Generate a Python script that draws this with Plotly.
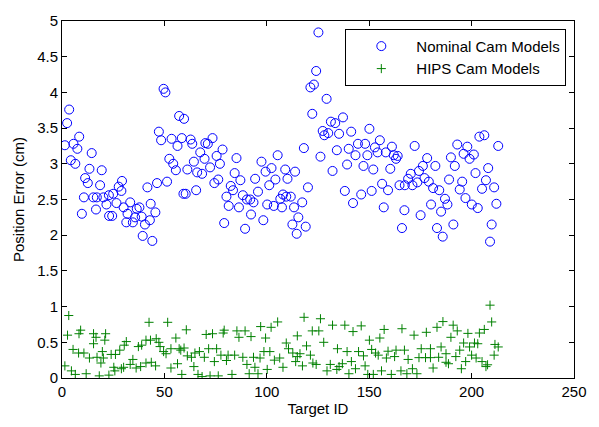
import plotly.graph_objects as go

# Nominal Cam Models (blue circles): target ID, position error (cm)
nominal_x = [1.4, 2.5, 3.5, 5.6, 8.4, 7.5, 4.3, 6.5, 14.5, 13.4, 11.3, 12.6, 19.4, 18.6, 10.7, 9.7,
             15.3, 16.6, 17.0, 20.2, 21.7, 22.9, 25.0, 26.6, 27.7, 29.3, 29.0, 23.0, 24.5, 30.1, 33.3,
             32.0, 31.4, 34.6, 35.7, 36.5, 37.8, 38.9, 40.5, 39.4, 42.9, 43.3, 45.6, 44.1, 41.7, 46.4,
             51.3, 49.6, 50.5, 47.3, 48.4, 53.5, 56.4, 52.4, 54.3, 55.6, 59.3,
             57.2, 59.6, 58.5, 62.8, 63.6, 70.0, 71.2, 73.5, 67.5, 78.4, 75.5, 69.6, 64.4, 61.2, 66.0,
             68.4, 72.3, 77.1, 85.2, 84.3, 87.1, 74.4, 76.3, 60.4, 65.5, 82.4, 83.5, 80.3, 81.4, 86.4,
             88.3, 90.3, 91.9, 93.5, 92.3, 79.2, 89.4, 94.3, 95.7, 97.4, 99.4, 102.3, 105.3, 101.2,
             104.2, 100.2, 103.4, 98.3, 106.6, 107.9, 109.5, 107.4, 109.0, 110.1, 111.7, 113.3, 113.8,
             112.5, 114.6, 115.4,
             125.2, 124.1, 121.3, 123.0, 129.2, 122.2, 131.3, 133.4, 137.2, 127.3, 128.1, 130.0, 135.3,
             141.2, 150.1, 118.1, 126.2, 134.2, 140.0, 143.3, 144.5, 148.0, 149.1, 152.8, 155.2, 154.1,
             158.1, 161.1, 162.0, 163.9, 163.1, 132.1, 139.2, 147.2, 152.0, 160.3, 120.1, 117.3, 119.0,
             138.1, 142.1, 146.1, 151.2, 156.3, 159.2, 157.1, 164.8, 167.4, 169.0, 171.1, 167.2, 166.0,
             172.2, 193.0, 203.8, 206.2, 213.0, 197.9, 196.1, 201.1, 199.0, 178.3, 189.9, 191.8, 176.2,
             182.3, 174.3, 170.3, 208.1, 201.9, 177.0, 173.5, 179.1, 181.2, 184.2, 189.0, 195.4, 194.2,
             205.1, 207.0, 211.0, 187.0, 188.2, 197.0, 200.1, 203.0, 212.1, 180.2, 185.1, 175.1, 183.1,
             191.1, 185.9, 209.8, 209.0]
nominal_y = [3.26, 3.57, 3.76, 3.28, 3.38, 3.21, 3.05, 3.00, 3.15, 2.93, 2.80, 2.73, 2.91, 2.70, 2.53, 2.30,
             2.53, 2.36, 2.53, 2.53, 2.43, 2.56, 2.58, 2.45, 2.68, 2.76, 2.62, 2.27, 2.27, 2.39, 2.46,
             2.30, 2.18, 2.18, 2.25, 2.37, 2.39, 2.26, 2.15, 1.99, 2.21, 2.44, 2.32, 1.92, 2.67, 2.73,
             2.75, 4.05, 4.00, 3.45, 3.33, 3.35, 3.25, 3.07, 3.00, 2.91, 2.58,
             3.67, 3.63, 3.36, 3.34, 3.28, 3.29, 3.28, 3.36, 3.16, 3.20, 3.11, 3.07, 3.03, 2.92, 2.88,
             2.86, 2.95, 3.00, 3.08, 2.87, 2.77, 2.73, 2.78, 2.58, 2.63, 2.69, 2.63, 2.54, 2.41, 2.39,
             2.56, 2.50, 2.50, 2.46, 2.29, 2.17, 2.09, 2.79, 2.61, 3.03, 2.89, 2.94, 3.12, 2.70,
             2.78, 2.43, 2.41, 2.21, 2.51, 2.57, 2.54, 2.39, 2.92, 2.79, 2.54, 2.39, 2.89,
             2.15, 2.02, 2.25,
             4.84, 4.30, 4.07, 4.11, 3.91, 3.70, 3.59, 3.57, 3.65, 3.46, 3.40, 3.43, 3.42,
             3.45, 3.49, 3.22, 3.10, 3.19, 3.21, 3.12, 3.28, 3.28, 3.12, 3.23, 3.33, 3.16,
             3.16, 3.24, 3.12, 3.11, 3.07, 2.90, 2.99, 2.97, 2.92, 2.93, 2.67, 2.46, 2.12,
             2.62, 2.45, 2.57, 2.62, 2.72, 2.63, 2.39, 2.70, 2.70, 2.79, 2.70, 2.35, 2.10,
             3.25, 3.27, 3.38, 3.40, 3.25, 3.24, 3.14, 3.13, 3.07, 3.08, 3.09, 2.97, 2.97,
             2.97, 2.90, 2.86, 2.94, 2.87, 2.80, 2.74, 2.75, 2.66, 2.63, 2.78, 2.75, 2.64,
             2.65, 2.77, 2.67, 2.51, 2.43, 2.52, 2.43, 2.38, 2.44, 2.43, 2.33, 2.28, 2.10,
             2.15, 1.98, 2.15, 1.91]

# HIPS Cam Models (green crosses)
hips_x = [3.3, 2.7, 9.1, 8.3, 15.4, 16.6, 21.3, 20.9, 15.4, 42.5, 51.6, 55.6, 5.4, 8.1, 10.7, 13.4,
          17.1, 19.7, 20.2, 24.0, 26.1, 28.2, 30.4, 31.4, 37.3, 38.9, 41.0, 43.2, 46.0, 47.3, 47.9,
          49.6, 50.8, 53.2, 57.2, 1.4, 4.6, 6.5, 11.8, 18.2, 22.9, 25.8, 25.3, 29.0, 30.1, 33.3,
          34.6, 36.2, 38.4, 41.0, 43.6, 45.7, 53.2, 56.4, 19.0,
          60.7, 70.4, 73.5, 79.2, 78.7, 85.4, 89.4, 86.4, 92.3, 97.0, 102.1, 105.3, 99.4, 114.9,
          109.5, 58.0, 59.6, 61.2, 63.2, 64.9, 67.1, 69.5, 71.6, 75.5, 77.6, 81.1, 84.3, 88.3, 93.5,
          96.7, 98.6, 101.5, 103.7, 106.3, 110.6, 112.7, 114.9, 64.4, 74.4, 80.3, 90.3, 94.2, 100.2,
          107.9, 58.5, 66.4, 68.4, 72.3, 76.3, 83.0, 91.4, 95.7,
          118.2, 126.2, 132.1, 138.1, 146.1, 157.3, 166.0, 142.1, 122.2, 125.4, 155.2, 150.1, 171.9,
          127.8, 119.4, 134.5, 139.2, 144.8, 151.2, 153.1, 159.2, 163.1, 167.2, 116.2, 121.3, 114.1,
          122.5, 124.1, 117.4, 141.3, 148.0, 147.2, 154.4, 158.4, 162.4, 169.0, 131.0, 135.3, 136.9,
          129.4, 134.2, 143.3, 140.1, 149.3, 152.0, 156.0, 160.8, 165.5, 168.4, 171.1,
          209.0, 209.8, 186.0, 183.1, 191.0, 193.0, 206.2, 203.8, 198.2, 177.9, 189.9, 196.1, 201.4,
          203.0, 199.0, 211.4, 213.0, 175.4, 179.9, 185.1, 194.2, 187.5, 211.0, 174.3, 177.5, 179.9,
          183.9, 192.3, 200.0, 202.2, 197.1, 205.1, 187.5, 188.7, 207.8, 207.0, 181.2, 195.0, 173.3]
hips_y = [0.875, 0.60, 0.67, 0.62, 0.62, 0.57, 0.62, 0.53, 0.48, 0.78, 0.78, 0.56, 0.40, 0.35, 0.35, 0.28,
          0.29, 0.37, 0.28, 0.33, 0.33, 0.39, 0.46, 0.51, 0.44, 0.46, 0.53, 0.53, 0.55, 0.50, 0.44,
          0.37, 0.34, 0.41, 0.41, 0.17, 0.10, 0.05, 0.06, 0.03, 0.04, 0.10, 0.15, 0.13, 0.15, 0.19,
          0.26, 0.14, 0.16, 0.21, 0.22, 0.17, 0.14, 0.20, 0.21,
          0.675, 0.61, 0.62, 0.67, 0.63, 0.66, 0.66, 0.57, 0.58, 0.72, 0.71, 0.785, 0.56, 0.59,
          0.49, 0.39, 0.42, 0.31, 0.29, 0.35, 0.37, 0.29, 0.41, 0.41, 0.32, 0.32, 0.32, 0.29, 0.29,
          0.28, 0.37, 0.37, 0.25, 0.28, 0.41, 0.35, 0.30, 0.16, 0.23, 0.245, 0.19, 0.15, 0.12,
          0.15, 0.05, 0.05, 0.02, 0.03, 0.03, 0.05, 0.06, 0.06,
          0.85, 0.83, 0.74, 0.74, 0.73, 0.68, 0.69, 0.65, 0.66, 0.66, 0.56, 0.53, 0.60,
          0.50, 0.45, 0.41, 0.37, 0.37, 0.40, 0.35, 0.375, 0.39, 0.39, 0.34, 0.32, 0.23,
          0.21, 0.19, 0.17, 0.23, 0.17, 0.31, 0.32, 0.28, 0.30, 0.26, 0.19, 0.16, 0.20,
          0.10, 0.12, 0.13, 0.06, 0.05, 0.05, 0.10, 0.05, 0.10, 0.06, 0.13,
          1.02, 0.785, 0.79, 0.71, 0.74, 0.66, 0.68, 0.63, 0.625, 0.64, 0.57, 0.49, 0.49,
          0.48, 0.435, 0.47, 0.435, 0.41, 0.41, 0.435, 0.39, 0.34, 0.32, 0.285, 0.285, 0.285,
          0.29, 0.30, 0.32, 0.28, 0.23, 0.23, 0.22, 0.20, 0.185, 0.16, 0.14, 0.13, 0.06]

x_ticks = [0, 50, 100, 150, 200, 250]
y_ticks = [0, 0.5, 1, 1.5, 2, 2.5, 3, 3.5, 4, 4.5, 5]
y_tick_text = ["0", "0.5", "1", "1.5", "2", "2.5", "3", "3.5", "4", "4.5", "5"]

FONT = "Liberation Sans, Arial, Helvetica, sans-serif"

fig = go.Figure()
fig.add_trace(go.Scatter(
    x=nominal_x, y=nominal_y, mode="markers", name="Nominal Cam Models",
    marker=dict(symbol="circle-open", size=9, color="#0000ff", line=dict(width=1)),
))
fig.add_trace(go.Scatter(
    x=hips_x, y=hips_y, mode="markers", name="HIPS Cam Models",
    marker=dict(symbol="cross-thin-open", size=6.5, color="#008000", line=dict(width=1)),
))

axis_common = dict(
    showline=True, linecolor="black", linewidth=1, mirror="ticks",
    ticks="inside", ticklen=5, tickwidth=1, tickcolor="black",
    showgrid=False, zeroline=False,
    tickfont=dict(family=FONT, size=15, color="black"),
)

fig.update_xaxes(range=[0, 250], tickvals=x_ticks, ticktext=[str(v) for v in x_ticks],
                 title=dict(text="Target ID", font=dict(family=FONT, size=15, color="black"), standoff=4),
                 **axis_common)
fig.update_yaxes(range=[0, 5], tickvals=y_ticks, ticktext=y_tick_text,
                 title=dict(text="Position Error (cm)", font=dict(family=FONT, size=15, color="black"), standoff=8),
                 **axis_common)

fig.update_layout(
    width=599, height=427,
    margin=dict(l=62, r=14, t=14, b=45),
    paper_bgcolor="white", plot_bgcolor="white",
    font=dict(family=FONT, size=15, color="black"),
    showlegend=True,
    legend=dict(x=0.985, y=0.978, xanchor="right", yanchor="top",
                bgcolor="white", bordercolor="black", borderwidth=1,
                font=dict(family=FONT, size=15, color="black"),
                itemwidth=60, tracegroupgap=0),
)

fig.write_html("out.html")
